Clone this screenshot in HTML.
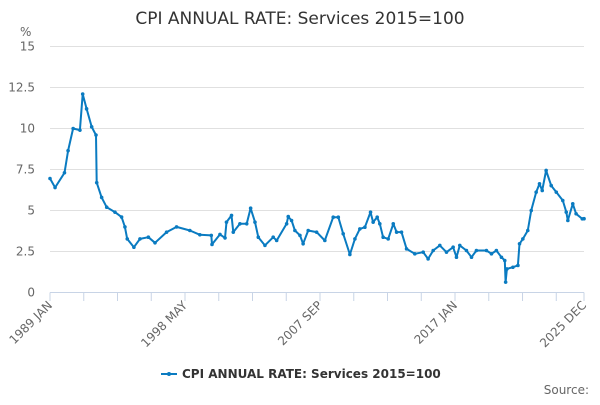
<!DOCTYPE html>
<html><head><meta charset="utf-8"><style>
body{margin:0;background:#fff;font-family:"Liberation Sans","DejaVu Sans",sans-serif}
svg text{font-family:"DejaVu Sans","Liberation Sans",sans-serif}
</style></head><body>
<svg id="chart" width="600" height="400">
<text x="300" y="24" text-anchor="middle" font-size="17" fill="#333">CPI ANNUAL RATE: Services 2015=100</text>
<text x="20" y="36" font-size="12" fill="#666">%</text>
<g id="grid"></g><g id="yl"></g><g id="xa"></g><g id="series"></g>
<g>
<line x1="161" y1="374" x2="177" y2="374" stroke="#0a7bc1" stroke-width="2"/>
<circle cx="169" cy="374" r="2" fill="#0a7bc1"/>
<text x="182" y="378" font-size="12" font-weight="bold" fill="#333">CPI ANNUAL RATE: Services 2015=100</text>
</g>
<text x="589" y="394" text-anchor="end" font-size="12" fill="#666">Source:</text>
</svg>
<script>
const times=[1989.0,1989.35,1990.0,1990.25,1990.6,1991.07,1991.26,1991.53,1991.88,1992.18,1992.23,1992.57,1992.92,1993.49,1993.95,1994.18,1994.34,1994.8,1995.22,1995.8,1996.26,1997.06,1997.75,1998.67,1999.36,2000.15,2000.2,2000.75,2001.1,2001.2,2001.55,2001.67,2002.13,2002.6,2002.87,2003.17,2003.4,2003.86,2004.43,2004.67,2005.36,2005.47,2005.7,2005.93,2006.28,2006.5,2006.85,2007.43,2008.0,2008.58,2008.93,2009.27,2009.73,2010.08,2010.42,2010.77,2011.16,2011.34,2011.62,2011.8,2012.03,2012.38,2012.73,2012.96,2013.3,2013.65,2014.22,2014.8,2015.14,2015.49,2015.95,2016.41,2016.87,2017.1,2017.33,2017.79,2018.14,2018.48,2019.17,2019.52,2019.86,2020.21,2020.44,2020.5,2020.59,2021.0,2021.35,2021.46,2021.69,2022.03,2022.27,2022.61,2022.84,2023.03,2023.3,2023.65,2024.0,2024.45,2024.69,2024.8,2025.14,2025.37,2025.8,2025.92];
const values=[6.95,6.4,7.3,8.65,10.0,9.9,12.1,11.2,10.1,9.6,6.7,5.8,5.2,4.9,4.6,4.0,3.27,2.76,3.27,3.37,3.03,3.68,4.0,3.78,3.52,3.48,2.93,3.54,3.33,4.29,4.7,3.68,4.19,4.19,5.14,4.29,3.37,2.87,3.37,3.17,4.19,4.63,4.39,3.78,3.48,2.97,3.78,3.68,3.17,4.59,4.59,3.58,2.32,3.27,3.88,3.98,4.9,4.29,4.59,4.19,3.37,3.27,4.19,3.68,3.68,2.66,2.36,2.46,2.05,2.56,2.87,2.46,2.76,2.15,2.87,2.56,2.15,2.56,2.56,2.36,2.56,2.15,1.95,0.63,1.44,1.54,1.65,2.97,3.27,3.78,5.0,6.12,6.63,6.22,7.44,6.52,6.12,5.61,4.9,4.39,5.41,4.8,4.49,4.5];
const yTicks=[0,2.5,5,7.5,10,12.5,15];
const yTickLabels=["0","2.5","5","7.5","10","12.5","15"];
const xLabelTimes=[1989.0,1998.333,2007.667,2017.0,2025.917];
const xLabels=["1989 JAN","1998 MAY","2007 SEP","2017 JAN","2025 DEC"];
const X0=50,X1=584,T0=1989.0,T1=2025.917,Y0=292.5,YS=16.4;
const sx=t=>X0+(t-T0)/(T1-T0)*(X1-X0);
const sy=v=>Y0-v*YS;
const NS='http://www.w3.org/2000/svg';
function mk(tag,attrs,parent){const e=document.createElementNS(NS,tag);for(const k in attrs)e.setAttribute(k,attrs[k]);document.getElementById(parent).appendChild(e);return e;}
yTicks.forEach((v,i)=>{
 if(v>0){const g=mk('line',{x1:50,x2:584,y1:sy(v),y2:sy(v),stroke:'#e0e0e0','stroke-width':1},'grid');
 
 }
 const t=mk('text',{x:35,y:sy(v)+4,'text-anchor':'end','font-size':12,fill:'#666'},'yl');t.textContent=yTickLabels[i];
 
 
});
const ax=mk('line',{x1:50,x2:584,y1:292.5,y2:292.5,stroke:'#c8d4e6','stroke-width':1},'xa');


for(let m=0;;m+=28){const t=T0+m/12;if(t>T1+0.01)break;
 const tk=mk('line',{x1:sx(t),x2:sx(t),y1:292.5,y2:301,stroke:'#c8d4e6'},'xa');
 
 }
const last=mk('line',{x1:X1,x2:X1,y1:292.5,y2:301,stroke:'#c8d4e6'},'xa');


xLabelTimes.forEach((t,i)=>{const x=sx(t)+3,y=306;
 const l=mk('text',{x:x,y:y,'text-anchor':'end','font-size':12,fill:'#666',transform:`rotate(-45 ${x} ${y})`},'xa');l.textContent=xLabels[i];
 
 });
const pts=times.map((t,i)=>sx(t).toFixed(1)+','+sy(values[i]).toFixed(1)).join(' ');
const pl=mk('polyline',{points:pts,fill:'none',stroke:'#0a7bc1','stroke-width':2,'stroke-linejoin':'round'},'series');


times.forEach((t,i)=>{const c=mk('circle',{cx:sx(t),cy:sy(values[i]),r:1.8,fill:'#0a7bc1'},'series');
 
 });
</script>
</body></html>
